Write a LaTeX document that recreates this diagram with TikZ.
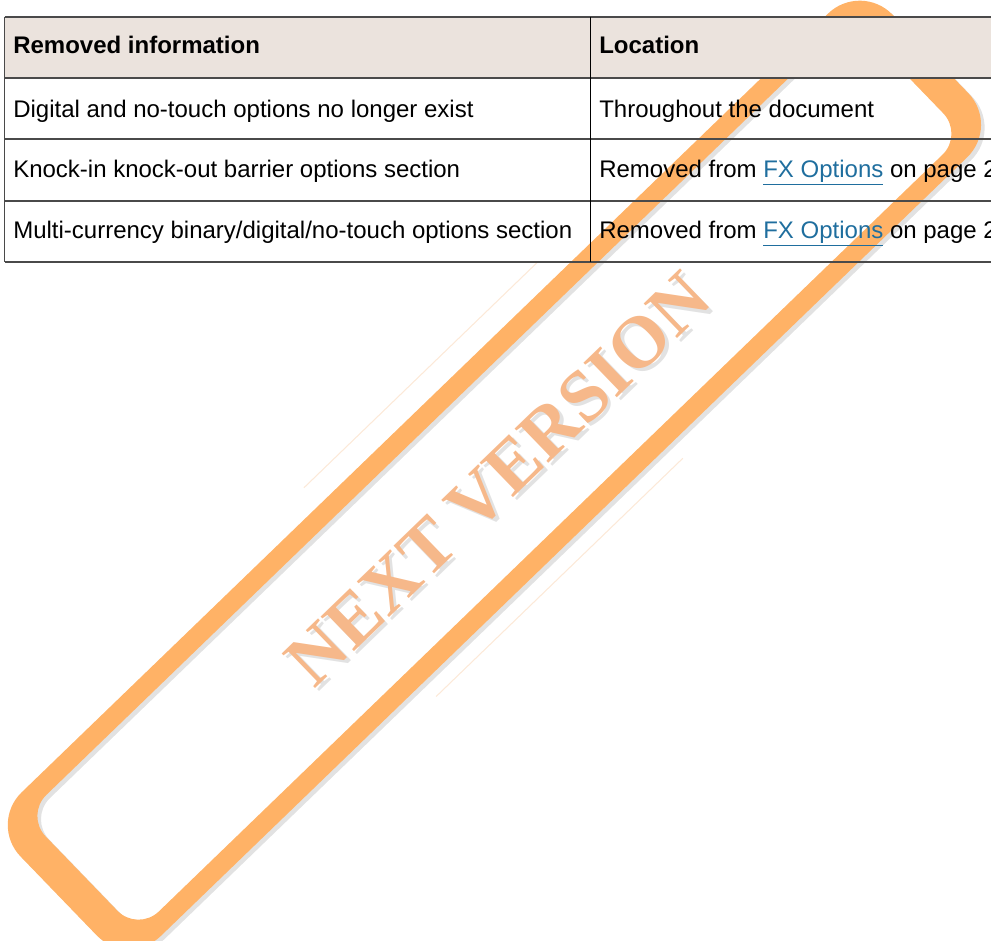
\documentclass[tikz,border=0pt]{standalone}
\usepackage{fontspec}
\setmainfont{Liberation Sans}
\newfontfamily\stampfont{Liberation Serif}
\definecolor{hdrfill}{HTML}{EBE3DD}
\definecolor{stamporange}{HTML}{FFB266}
\definecolor{stamptext}{HTML}{F6B88A}
\definecolor{stampshadow}{HTML}{E2E2E2}
\definecolor{faintline}{HTML}{FCE9D8}
\definecolor{rulegray}{HTML}{4A4A4A}
\definecolor{linkblue}{HTML}{1F6E9E}
\begin{document}
\begin{tikzpicture}[x=0.75pt,y=-0.75pt,
  cell/.style={anchor=base west, inner sep=0pt, font=\fontsize{18pt}{21pt}\selectfont},
  head/.style={anchor=base west, inner sep=0pt, font=\fontsize{18pt}{21pt}\selectfont\bfseries},
  tline/.style={draw=rulegray, line width=0.9pt},
  stamptextstyle/.style={transform shape, inner sep=0pt, font=\stampfont\bfseries\fontsize{55pt}{60pt}\selectfont},
  ]
\useasboundingbox (0,0) rectangle (991,940);
\clip (0,0) rectangle (991,940);
% stamp shadow
\begin{scope}[shift={(498,478)}, rotate=44]
  \fill[stampshadow, even odd rule] [rounded corners=34pt] (-606,-100) rectangle (606,100)
        [rounded corners=22pt] (-574,-81) rectangle (574,81);
  \node (stampshadowtxt) [stamptextstyle, text=stampshadow] at (0,6) {NEXT VERSION};
\end{scope}
% stamp
\begin{scope}[shift={(494.4,474.8)}, rotate=44]
  \fill[stamporange, even odd rule] [rounded corners=34pt] (-606,-100) rectangle (606,100)
        [rounded corners=22pt] (-574,-81) rectangle (574,81);
  \node (stamptxt) [stamptextstyle, text=stamptext] at (0,6) {NEXT VERSION};
  \draw[faintline, line width=0.8pt] (-146,-123) -- (180,-123);
  \draw[faintline, line width=0.8pt] (-196,119) -- (147,119);
\end{scope}
% table
\fill[hdrfill] (4.5,17) rectangle (1000,78);
\draw[tline] (4.5,17) -- (1000,17);
\draw[tline] (4.5,78) -- (1000,78);
\draw[tline] (4.5,139) -- (1000,139);
\draw[tline] (4.5,201) -- (1000,201);
\draw[tline] (4.5,262) -- (1000,262);
\draw[tline] (4.5,17) -- (4.5,262);
\draw[draw=black, line width=0.9pt] (590.5,17) -- (590.5,262);
\node[head] (h1) at (13,53) {Removed information};
\node[head] (h2) at (599,53) {Location};
\node[cell] (r1a) at (13,117) {Digital and no-touch options no longer exist};
\node[cell] (r1b) at (599,117) {Throughout the document};
\node[cell] (r2a) at (13,177) {Knock-in knock-out barrier options section};
\node[cell] (r2b) at (599,177) {Removed from \textcolor{linkblue}{\underline{FX Options}} on page 2};
\node[cell] (r3a) at (13,238) {Multi-currency binary/digital/no-touch options section};
\node[cell] (r3b) at (599,238) {Removed from \textcolor{linkblue}{\underline{FX Options}} on page 2};
\end{tikzpicture}
\end{document}
